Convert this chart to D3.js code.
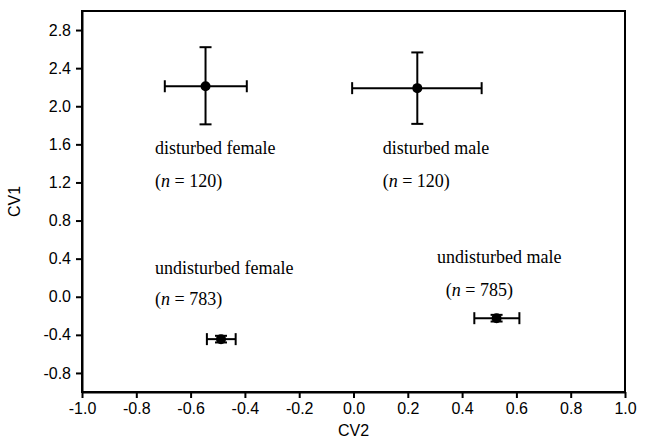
<!DOCTYPE html>
<html>
<head>
<meta charset="utf-8">
<script src="https://cdn.jsdelivr.net/npm/d3@7"></script>
<style>
  body { margin: 0; background: #fff; }
  svg { display: block; }
  .tick text { font-family: "Liberation Sans", Arial, sans-serif; font-size: 16px; fill: #000; }
  .grp { font-family: "Liberation Serif", "Times New Roman", serif; font-size: 18px; fill: #000; }
</style>
</head>
<body>
<svg width="648" height="439"></svg>
<script>
// group means and error limits
const groups = ["disturbed female", "disturbed male", "undisturbed female", "undisturbed male"];
const nValues = [120, 120, 783, 785];
const cv2Mean = [-0.545, 0.235, -0.488, 0.527];
const cv2Low = [-0.695, -0.005, -0.54, 0.445];
const cv2High = [-0.393, 0.472, -0.434, 0.611];
const cv1Mean = [2.21, 2.19, -0.445, -0.225];
const cv1Low = [1.81, 1.815, -0.48, -0.26];
const cv1High = [2.62, 2.565, -0.41, -0.19];

const xTicks = [-1.0, -0.8, -0.6, -0.4, -0.2, 0.0, 0.2, 0.4, 0.6, 0.8, 1.0];
const yTicks = [-0.8, -0.4, 0.0, 0.4, 0.8, 1.2, 1.6, 2.0, 2.4, 2.8];

// where the group labels sit, in data units (name line, n line)
const labelX = [-0.731, 0.1075, -0.731, 0.3075];
const labelNX = [-0.731, 0.1075, -0.731, 0.34];
const labelY = [1.5, 1.5, 0.237, 0.353];
const labelNY = [1.15, 1.15, -0.09, 0.005];

const svg = d3.select("svg");
const margin = { top: 11, right: 23, bottom: 47, left: 82 };
const width = 648 - margin.left - margin.right;
const height = 439 - margin.top - margin.bottom;

const g = svg.append("g").attr("transform", `translate(${margin.left},${margin.top})`);

const x = d3.scaleLinear().domain([-1, 1]).range([0, width]);
const y = d3.scaleLinear().domain([-1, 3]).range([height, 0]);

const fmt = (d) => d.toFixed(1);

// frame
g.append("rect")
  .attr("width", width)
  .attr("height", height)
  .attr("fill", "none")
  .attr("stroke", "#000")
  .attr("stroke-width", 2);

const xAxis = g.append("g")
  .attr("transform", `translate(0,${height})`)
  .call(d3.axisBottom(x).tickValues(xTicks).tickFormat(fmt).tickSize(6).tickSizeOuter(0).tickPadding(5));

const yAxis = g.append("g")
  .call(d3.axisLeft(y).tickValues(yTicks).tickFormat(fmt).tickSize(6).tickSizeOuter(0).tickPadding(5));

[xAxis, yAxis].forEach((a) => {
  a.select(".domain").attr("stroke-width", 2);
  a.selectAll(".tick line").attr("stroke-width", 2);
});

// axis titles
svg.append("text")
  .attr("x", margin.left + x(0))
  .attr("y", 436)
  .attr("text-anchor", "middle")
  .attr("font-family", "Liberation Sans, Arial, sans-serif")
  .attr("font-size", 16)
  .text("CV2");

svg.append("text")
  .attr("transform", `translate(20,${margin.top + y(1)}) rotate(-90)`)
  .attr("text-anchor", "middle")
  .attr("font-family", "Liberation Sans, Arial, sans-serif")
  .attr("font-size", 16)
  .text("CV1");

// error bars
const idx = d3.range(groups.length);
const cap = 6;
const bars = g.append("g").attr("stroke", "#000").attr("stroke-width", 2);

bars.selectAll(".hbar").data(idx).enter().append("line")
  .attr("x1", (i) => x(cv2Low[i])).attr("x2", (i) => x(cv2High[i]))
  .attr("y1", (i) => y(cv1Mean[i])).attr("y2", (i) => y(cv1Mean[i]));

bars.selectAll(".vbar").data(idx).enter().append("line")
  .attr("x1", (i) => x(cv2Mean[i])).attr("x2", (i) => x(cv2Mean[i]))
  .attr("y1", (i) => y(cv1Low[i])).attr("y2", (i) => y(cv1High[i]));

[cv2Low, cv2High].forEach((arr) => {
  bars.selectAll(null).data(idx).enter().append("line")
    .attr("x1", (i) => x(arr[i])).attr("x2", (i) => x(arr[i]))
    .attr("y1", (i) => y(cv1Mean[i]) - cap).attr("y2", (i) => y(cv1Mean[i]) + cap);
});

[cv1Low, cv1High].forEach((arr) => {
  bars.selectAll(null).data(idx).enter().append("line")
    .attr("x1", (i) => x(cv2Mean[i]) - cap).attr("x2", (i) => x(cv2Mean[i]) + cap)
    .attr("y1", (i) => y(arr[i])).attr("y2", (i) => y(arr[i]));
});

// means
g.selectAll(".dot").data(idx).enter().append("circle")
  .attr("cx", (i) => x(cv2Mean[i]))
  .attr("cy", (i) => y(cv1Mean[i]))
  .attr("r", 5)
  .attr("fill", "#000");

// group labels
idx.forEach((i) => {
  g.append("text")
    .attr("class", "grp")
    .attr("x", x(labelX[i])).attr("y", y(labelY[i]))
    .text(groups[i]);
  const t = g.append("text")
    .attr("class", "grp")
    .attr("x", x(labelNX[i])).attr("y", y(labelNY[i]));
  t.append("tspan").text("(");
  t.append("tspan").attr("font-style", "italic").text("n");
  t.append("tspan").text(" = " + nValues[i] + ")");
});
</script>
</body>
</html>
